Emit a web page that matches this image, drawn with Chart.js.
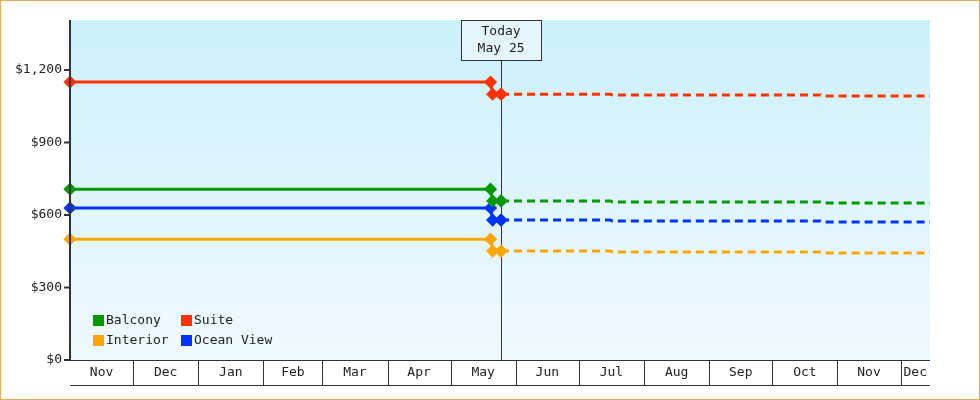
<!DOCTYPE html>
<html><head><meta charset="utf-8">
<script src="https://cdn.jsdelivr.net/npm/chart.js@4"></script>
<style>
  body{margin:0;background:#fff}
  .wrap{width:978px;height:398px;border:1px solid #f0a858;position:relative}
</style></head>
<body>
<div class="wrap"><canvas id="c" width="978" height="398"></canvas></div>
<script>
// x values are days since Nov 1
const monthLabels = ['Nov','Dec','Jan','Feb','Mar','Apr','May','Jun','Jul','Aug','Sep','Oct','Nov','Dec'];
const monthStarts = [0,30,61,92,120,151,181,212,242,273,304,334,365,395];
const xEnd = 409;
const todayDay = 205;
const todayLabel = ['Today','May 25'];

const cabins = ['Balcony','Suite','Interior','Ocean View'];
const colors = ['#009900','#ff3300','#ffa500','#0033ff'];
// history points: [day, price]
const histDays = [0, 200, 201, 205];
const histBalcony  = [707, 707, 658, 658];
const histSuite    = [1150, 1150, 1100, 1100];
const histInterior = [500, 500, 451, 451];
const histOcean    = [629, 629, 579, 579];
// forecast points
const fcDays = [205, 257, 258, 357, 358, 409];
const fcBalcony  = [658, 658, 654, 654, 650, 650];
const fcSuite    = [1100, 1100, 1097, 1097, 1092, 1092];
const fcInterior = [451, 451, 447, 447, 443, 443];
const fcOcean    = [579, 579, 575, 575, 571, 571];
const yTicks = [0, 300, 600, 900, 1200];

const hist = [histBalcony, histSuite, histInterior, histOcean];
const fc = [fcBalcony, fcSuite, fcInterior, fcOcean];
const datasets = [];
cabins.forEach((name, i) => {
  datasets.push({
    label: name, data: histDays.map((d, j) => ({x: d, y: hist[i][j]})),
    borderColor: colors[i], backgroundColor: colors[i], borderWidth: 3, clip: false,
    pointStyle: 'rectRot', pointRadius: 4.5, pointHoverRadius: 4.5
  });
  datasets.push({
    label: name + ' forecast', data: fcDays.map((d, j) => ({x: d, y: fc[i][j]})),
    borderColor: colors[i], borderWidth: 3, borderDash: [8, 5], clip: false,
    pointRadius: [4.5, 0, 0, 0, 0, 0], pointStyle: 'rectRot', backgroundColor: colors[i]
  });
});

const FONT = '13px "DejaVu Sans Mono", monospace';

const decor = {
  id: 'decor',
  beforeDatasetsDraw(chart) {
    const {ctx, chartArea: a} = chart;
    const g = ctx.createLinearGradient(0, a.top, 0, a.bottom);
    g.addColorStop(0, '#ccf0fc'); g.addColorStop(1, '#f0f9fe');
    ctx.save();
    ctx.fillStyle = g;
    ctx.fillRect(a.left, a.top, a.right - a.left, a.bottom - a.top);
    // today line
    const x = chart.scales.x.getPixelForValue(todayDay);
    ctx.strokeStyle = '#333'; ctx.lineWidth = 1;
    ctx.beginPath(); ctx.moveTo(Math.round(x) + .5, a.top + 40); ctx.lineTo(Math.round(x) + .5, a.bottom); ctx.stroke();
    ctx.restore();
  },
  afterDraw(chart) {
    const {ctx, chartArea: a, scales: {x: sx, y: sy}} = chart;
    ctx.save();
    // left axis + ticks
    ctx.strokeStyle = '#333'; ctx.lineWidth = 2;
    ctx.beginPath(); ctx.moveTo(a.left, a.top); ctx.lineTo(a.left, a.bottom); ctx.stroke();
    ctx.font = FONT; ctx.fillStyle = '#222'; ctx.textAlign = 'right'; ctx.textBaseline = 'middle';
    yTicks.forEach(v => {
      const y = sy.getPixelForValue(v);
      ctx.beginPath(); ctx.moveTo(a.left - 6, y); ctx.lineTo(a.left, y); ctx.stroke();
      ctx.fillText('$' + v.toLocaleString('en-US'), a.left - 8, y);
    });
    // month boxes
    ctx.lineWidth = 1;
    const bTop = a.bottom, bBot = a.bottom + 25;
    ctx.beginPath(); ctx.moveTo(a.left, bTop + .5); ctx.lineTo(a.right, bTop + .5);
    ctx.moveTo(a.left, bBot + .5); ctx.lineTo(a.right, bBot + .5); ctx.stroke();
    ctx.textAlign = 'center';
    monthStarts.forEach((d, i) => {
      const x0 = sx.getPixelForValue(d);
      const x1 = sx.getPixelForValue(i + 1 < monthStarts.length ? monthStarts[i + 1] : xEnd);
      if (i > 0) { ctx.beginPath(); ctx.moveTo(Math.round(x0) + .5, bTop); ctx.lineTo(Math.round(x0) + .5, bBot); ctx.stroke(); }
      ctx.fillText(monthLabels[i], (x0 + x1) / 2, bTop + 13);
    });
    // today label box
    const tx = sx.getPixelForValue(todayDay);
    ctx.fillStyle = '#e4f6fc';
    ctx.fillRect(tx - 40, a.top, 80, 40);
    ctx.strokeStyle = '#333';
    ctx.strokeRect(Math.round(tx - 40) + .5, a.top + .5, 80, 40);
    ctx.fillStyle = '#222';
    ctx.fillText(todayLabel[0], tx, a.top + 12);
    ctx.fillText(todayLabel[1], tx, a.top + 29);
    // legend
    ctx.textAlign = 'left';
    const lx = [a.left + 23, a.left + 111];
    const ly = [a.bottom - 40, a.bottom - 20];
    [[0, 1], [2, 3]].forEach((row, r) => row.forEach((idx, c) => {
      ctx.fillStyle = colors[idx];
      ctx.fillRect(lx[c], ly[r] - 5, 11, 11);
      ctx.fillStyle = '#222';
      ctx.fillText(cabins[idx], lx[c] + 13, ly[r] + 1);
    }));
    ctx.restore();
  }
};

new Chart(document.getElementById('c'), {
  type: 'line',
  data: {datasets},
  options: {
    responsive: false, animation: false,
    layout: {padding: {left: 69, right: 49, top: 19, bottom: 39}},
    scales: {
      x: {type: 'linear', min: 0, max: xEnd, display: false},
      y: {min: 0, max: 1407, display: false}
    },
    plugins: {legend: {display: false}, tooltip: {enabled: false}},
    elements: {line: {tension: 0}}
  },
  plugins: [decor]
});
</script>
</body></html>
